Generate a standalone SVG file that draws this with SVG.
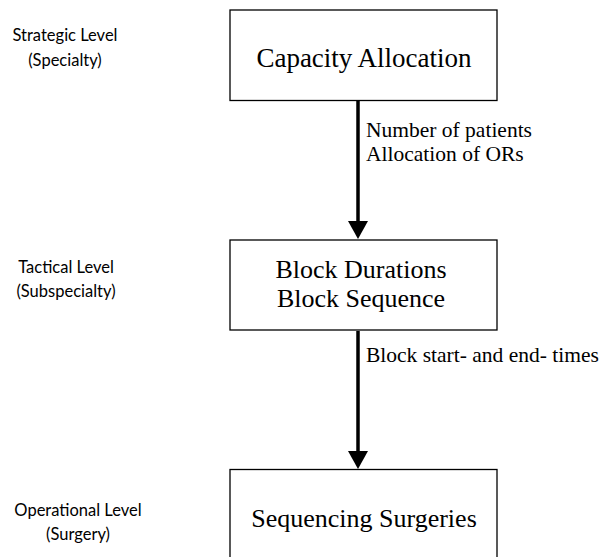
<svg xmlns="http://www.w3.org/2000/svg" width="602" height="557" viewBox="0 0 602 557">
<style>
.box{fill:#fff;stroke:#000;stroke-width:1.3}
.lvl{font-family:Lato,"Open Sans",sans-serif;font-size:16.5px;fill:#000;text-anchor:middle}
.main{font-family:"Liberation Serif","Times New Roman",serif;font-size:27px;fill:#000;text-anchor:middle}
.sm{font-size:26px}
.lab{font-family:"Liberation Serif","Times New Roman",serif;font-size:21.5px;fill:#000}
.conn{stroke:#000;stroke-width:3.5;fill:none}
.head{fill:#000}
</style>
<rect width="602" height="557" fill="#fff"/>
<g id="levels">
<text class="lvl" x="65" y="41">Strategic Level</text>
<text class="lvl" x="65" y="66">(Specialty)</text>
<text class="lvl" x="66" y="273">Tactical Level</text>
<text class="lvl" x="66" y="297">(Subspecialty)</text>
<text class="lvl" x="78" y="516">Operational Level</text>
<text class="lvl" x="78" y="540">(Surgery)</text>
</g>
<g id="connectors">
<line class="conn" x1="358" y1="101" x2="358" y2="222"/>
<path class="head" d="M348,221 L368,221 L358,239 Z"/>
<line class="conn" x1="358" y1="331" x2="358" y2="452"/>
<path class="head" d="M348,451 L368,451 L358,469 Z"/>
<text class="lab" x="366" y="137">Number of patients</text>
<text class="lab" x="366" y="161">Allocation of ORs</text>
<text class="lab" x="366" y="362">Block start- and end- times</text>
</g>
<g id="capacity">
<rect class="box" x="230" y="10" width="267" height="90.5"/>
<text class="main" x="364" y="67">Capacity Allocation</text>
</g>
<g id="block">
<rect class="box" x="230" y="240" width="267" height="90"/>
<text class="main sm" x="361" y="278">Block Durations</text>
<text class="main sm" x="361" y="307">Block Sequence</text>
</g>
<g id="sequencing">
<rect class="box" x="230" y="469.5" width="267" height="100"/>
<text class="main sm" x="364" y="527">Sequencing Surgeries</text>
</g>
</svg>
